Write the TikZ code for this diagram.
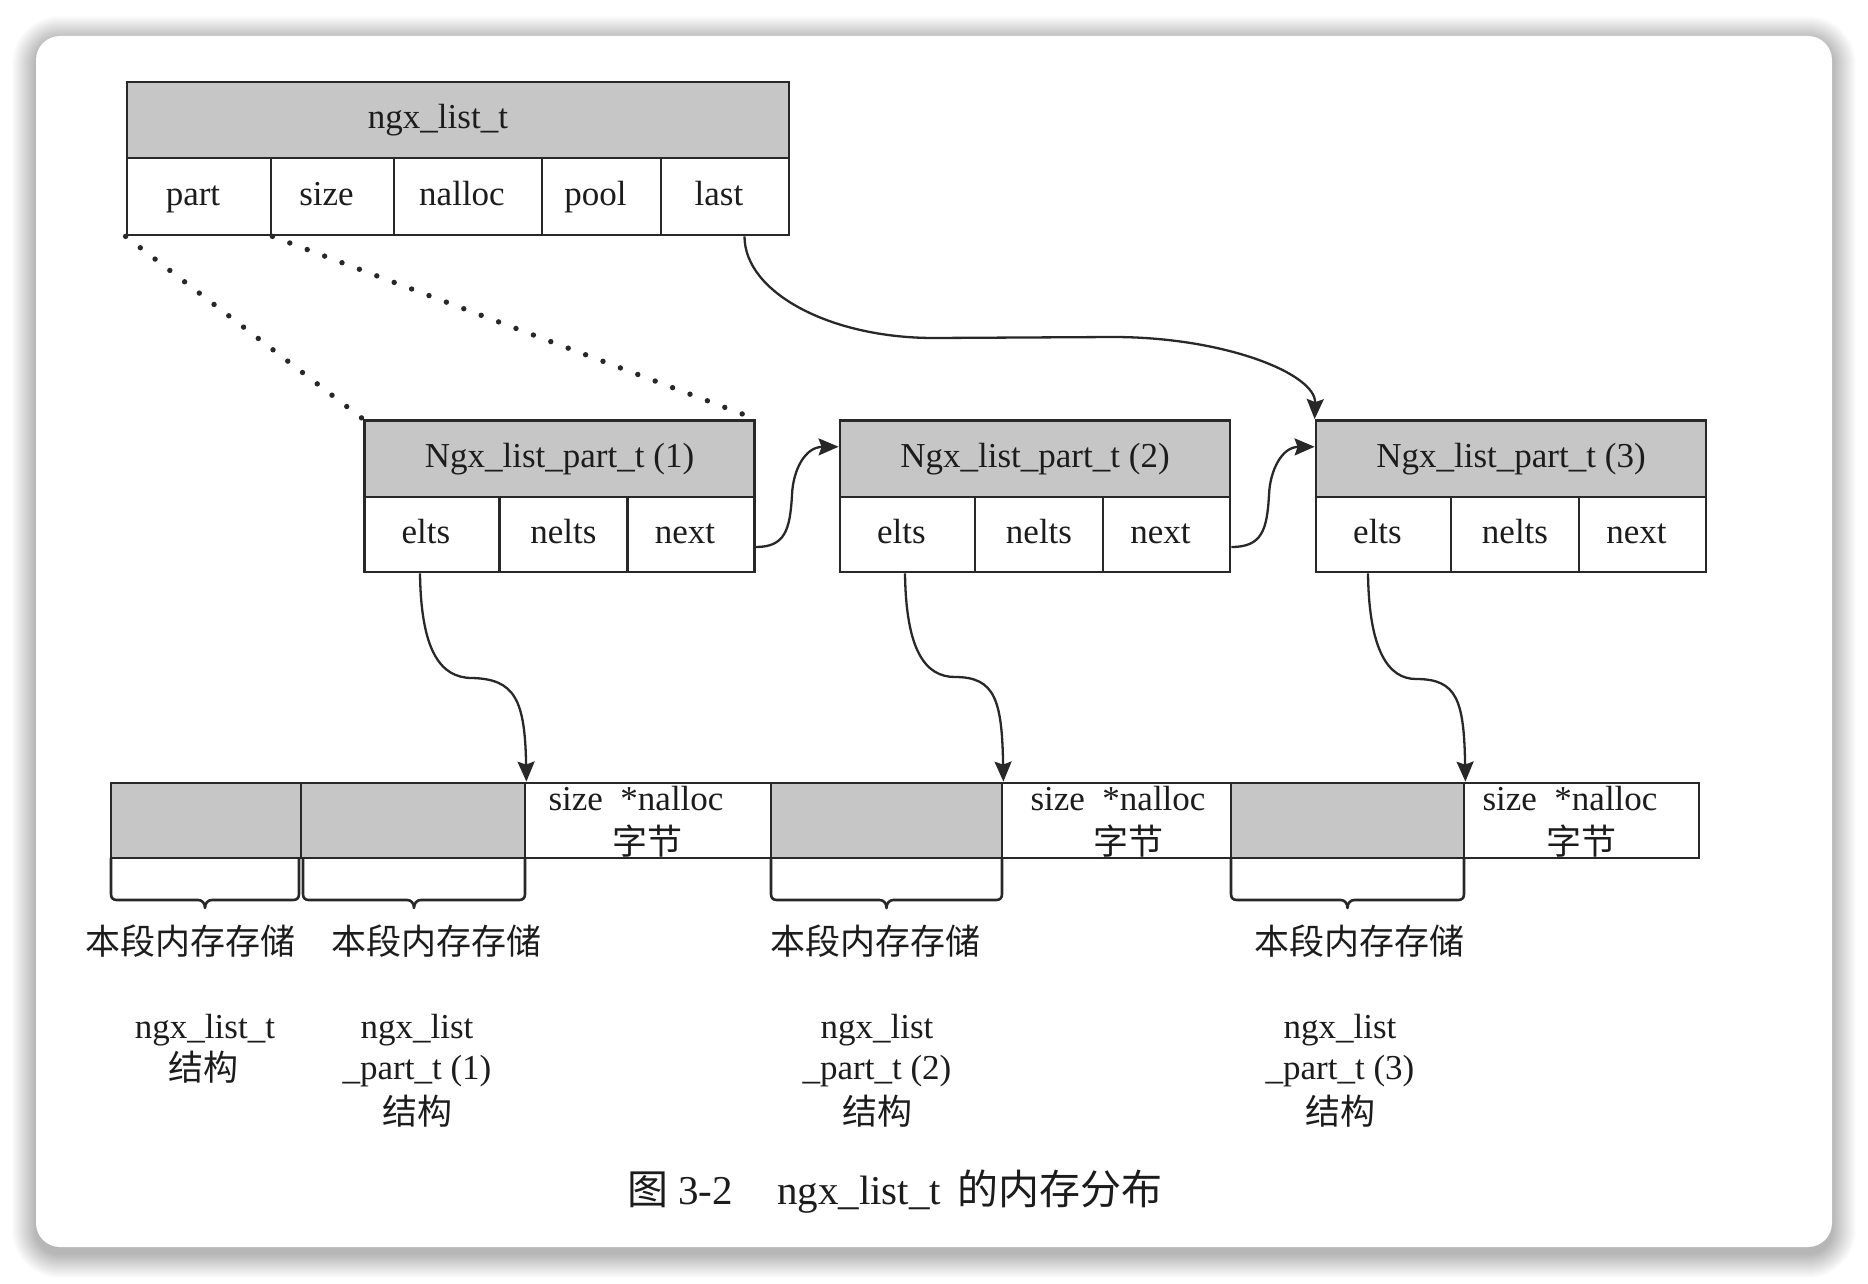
\documentclass[tikz,border=0pt]{standalone}
\usepackage{fontspec}
\setmainfont{Liberation Serif}
\newfontfamily\cjk{Noto Sans CJK SC}
\usetikzlibrary{arrows.meta,fit,calc}
\definecolor{boxgray}{RGB}{198,198,198}
\definecolor{linec}{RGB}{40,40,40}
\definecolor{textc}{RGB}{28,28,28}
\newcommand{\fs}{\fontsize{17.5pt}{21pt}\selectfont}
\newcommand{\capfs}{\fontsize{20.5pt}{24pt}\selectfont}
\newcommand{\membrace}[3]{%
  \draw[bline] (#1,858) -- (#1,894) .. controls (#1,898) and ({#1+2},900) .. ({#1+6},900)
    -- ({#3-7},900) .. controls ({#3-3},900) and (#3,903) .. (#3,908)
    .. controls (#3,903) and ({#3+3},900) .. ({#3+7},900)
    -- ({#2-6},900) .. controls ({#2-2},900) and (#2,898) .. (#2,894) -- (#2,858);}
\begin{document}
\begin{tikzpicture}[x=0.5pt,y=-0.5pt,
  cell/.style={draw=linec, line width=1.4pt, inner sep=0pt},
  hcell/.style={cell, fill=boxgray},
  txt/.style={inner sep=0pt, text=textc, font=\fs},
  ltxt/.style={txt, text height=13pt, text depth=4.4pt},
  ctxt/.style={inner sep=0pt, text=textc, font=\fs\cjk},
  lab/.style={label={[ltxt]center:{#1}}},
  labl/.style={label={[ltxt, xshift=-3pt]center:{#1}}},
  arr/.style={draw=linec, line width=1.15pt, -{Stealth[length=10pt,width=8.5pt,inset=1.5pt]}},
  dotline/.style={draw=linec, line width=2.7pt, line cap=round, dash pattern=on 0pt off 9.3pt},
  bline/.style={draw=linec, line width=1.3pt, line join=round},
]
\path[use as bounding box] (0,0) rectangle (1868,1284);
\fill[white] (0,0) rectangle (1868,1284);
% card shadow and card
\foreach \k in {1,...,24}{
  \pgfmathsetmacro{\rr}{12+0.5*\k}
  \fill[black, opacity=0.012, rounded corners=\rr pt] ({36-\k},{40-\k}) rectangle ({1832+\k},{1254+\k});
}
\fill[white, rounded corners=12pt] (36,36) rectangle (1832,1247);

% ngx_list_t structure
\node[hcell, fit={(127,82)(789,158)}, label={[ltxt, xshift=-10pt]center:ngx\_list\_t}] (lt) {};
\node[cell, fit={(127,158)(271,235)}, labl={part}] (part) {};
\node[cell, fit={(271,158)(394,235)}, labl={size}] (size) {};
\node[cell, fit={(394,158)(542,235)}, labl={nalloc}] (nalloc) {};
\node[cell, fit={(542,158)(661,235)}, labl={pool}] (pool) {};
\node[cell, fit={(661,158)(789,235)}, labl={last}] (last) {};

% list parts
\foreach \i/\x in {1/364.5,2/840,3/1316}{
  \node[hcell, fit={(\x,420.5)({\x+390},497)}, lab={Ngx\_list\_part\_t (\i)}] (ph\i) {};
  \node[cell, fit={(\x,497)({\x+135},572)}, labl={elts}] (pe\i) {};
  \node[cell, fit={({\x+135},497)({\x+263},572)}, lab={nelts}] (pl\i) {};
  \node[cell, fit={({\x+263},497)({\x+390},572)}, labl={next}] (px\i) {};
}

% memory row
\node[hcell, fit={(111,783)(301,858)}] (m1) {};
\node[hcell, fit={(301,783)(525,858)}] (m2) {};
\node[cell, fill=white, fit={(525,783)(771,858)}] (w1) {};
\node[hcell, fit={(771,783)(1002,858)}] (m3) {};
\node[cell, fill=white, fit={(1002,783)(1231,858)}] (w2) {};
\node[hcell, fit={(1231,783)(1464,858)}] (m4) {};
\node[cell, fill=white, fit={(1464,783)(1699,858)}] (w3) {};

\node[txt, anchor=base] (w1a) at (636,810) {size~~*nalloc};
\node[ctxt, anchor=base] (w1b) at (647,854) {字节};
\node[txt, anchor=base] (w2a) at (1118,810) {size~~*nalloc};
\node[ctxt, anchor=base] (w2b) at (1128,854) {字节};
\node[txt, anchor=base] (w3a) at (1570,810) {size~~*nalloc};
\node[ctxt, anchor=base] (w3b) at (1581,854) {字节};

% braces
\membrace{111}{299}{205}
\membrace{303}{525}{414}
\membrace{771}{1002}{886.5}
\membrace{1231}{1464}{1347.5}

\node[ctxt, anchor=base] (b1) at (190,954) {本段内存存储};
\node[ctxt, anchor=base] (b2) at (436,954) {本段内存存储};
\node[ctxt, anchor=base] (b3) at (875,954) {本段内存存储};
\node[ctxt, anchor=base] (b4) at (1359,954) {本段内存存储};

% structure labels
\node[txt, anchor=base] (s0a) at (205,1038) {ngx\_list\_t};
\node[ctxt, anchor=base] (s0b) at (203,1080) {结构};
\foreach \i/\x in {1/417,2/877,3/1340}{
  \node[txt, anchor=base] (s\i a) at (\x,1038) {ngx\_list};
  \node[txt, anchor=base] (s\i b) at (\x,1079) {\_part\_t (\i)};
  \node[ctxt, anchor=base] (s\i c) at (\x,1124) {结构};
}

% caption
\node[txt, font=\capfs, anchor=base west] (cap) at (627,1204) {{\cjk 图}\hspace{5pt}3-2\hspace{22pt}ngx\_list\_t\hspace{8pt}{\cjk 的内存分布}};

% connectors
\draw[dotline] (part.south west) -- (ph1.north west);
\draw[dotline] (part.south east) -- (ph1.north east);

\draw[arr] ([xshift=9.75pt]last.south) .. controls (744.5,292) and (829,338) .. (934,338)
  -- (1113,337) .. controls (1225,337) and (1316,374) .. (ph3.north west);

\draw[arr] ([yshift=-6.25pt]px1.east) .. controls (785,547) and (790,530) .. (792,495)
  .. controls (793,470) and (805,447) .. ([yshift=6pt]ph2.west);
\draw[arr] ([yshift=-6.25pt]px2.east) .. controls (1262,547) and (1267,530) .. (1269,495)
  .. controls (1270,470) and (1282,447) .. ([yshift=6pt]ph3.west);

\draw[arr] ([xshift=-6pt]pe1.south) .. controls (421,650) and (440,678) .. (472,678)
  .. controls (515,679) and (525,700) .. (m2.north east);
\draw[arr] ([xshift=-1.25pt]pe2.south) .. controls (906,650) and (925,677) .. (955,677)
  .. controls (995,677) and (1002,700) .. (m3.north east);
\draw[arr] ([xshift=-7.75pt]pe3.south) .. controls (1369,650) and (1388,679) .. (1416,679)
  .. controls (1457,679) and (1464,700) .. (m4.north east);
\end{tikzpicture}
\end{document}
